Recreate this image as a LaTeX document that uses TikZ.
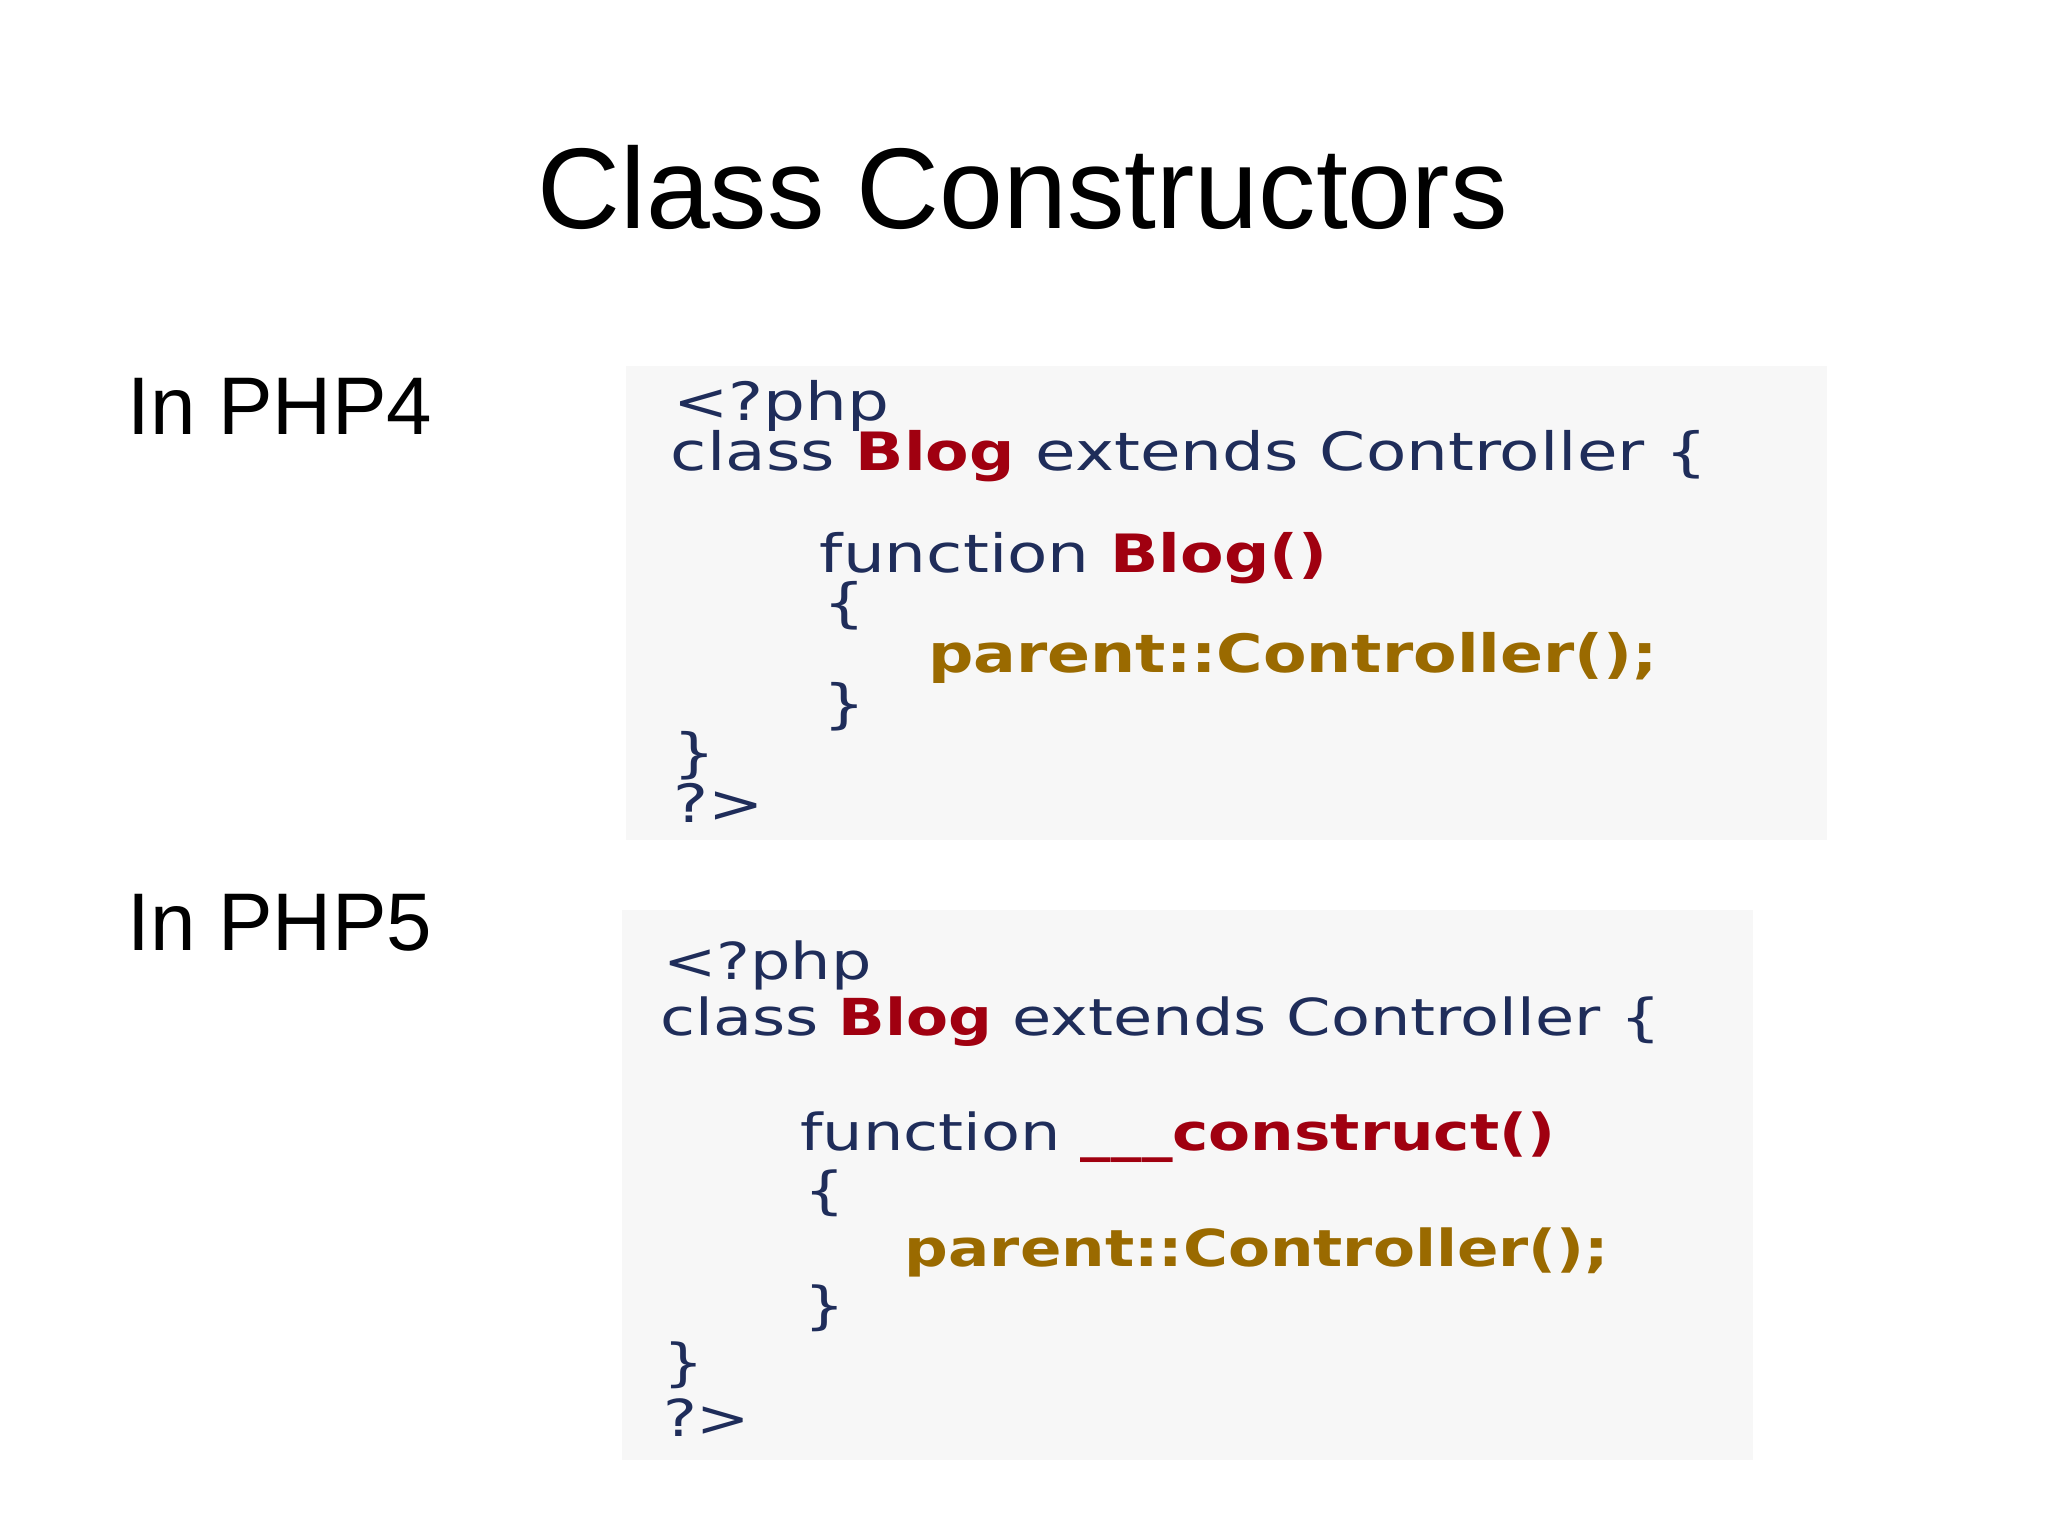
\documentclass[tikz,border=0pt]{standalone}
\usepackage{fontspec}
\setmainfont{Liberation Sans}
\newfontfamily\codefont[FakeStretch=1.25]{DejaVu Sans}
\newfontfamily\codefontb[FakeStretch=1.2]{DejaVu Sans}
\definecolor{cblue}{HTML}{1F2D5A}
\definecolor{cred}{HTML}{A00010}
\definecolor{cgold}{HTML}{9A6A00}
\definecolor{boxbg}{HTML}{F7F7F7}
\tikzset{
 code/.style={anchor=base west,inner sep=0pt,font=\codefont\fontsize{11.5}{14}\selectfont,text=cblue},
 codeB/.style={code,font=\codefont\fontsize{11.1}{14}\selectfont},
 lbl/.style={anchor=base west,inner sep=0pt,font=\fontsize{17.8}{22}\selectfont},
 codebox/.style={fill=boxbg,draw=none}
}
\newcommand{\kred}[1]{\textcolor{cred}{\codefontb\bfseries #1}}
\newcommand{\kgold}[1]{\textcolor{cgold}{\codefontb\bfseries #1}}
\begin{document}
\begin{tikzpicture}[x=0.01cm,y=-0.01cm]
\useasboundingbox (0,0) rectangle (1568,1175);
\node[anchor=base,inner sep=0pt,font=\fontsize{25}{30}\selectfont] (title) at (783,175) {Class Constructors};
\node[lbl] (l4) at (97,333) {In PHP4};
\node[lbl] (l5) at (97,728) {In PHP5};
\fill[codebox] (479,280) rectangle (1399,643);
\node[code] (a1) at (515,322) {<?php};
\node[code] (a2) at (513,360) {class \kred{Blog} extends Controller \{};
\node[code] (a3) at (627,438) {function \kred{Blog()}};
\node[code] (a4) at (630,476) {\{};
\node[code] (a5) at (710,515) {\kgold{parent::Controller();}};
\node[code] (a6) at (630,553) {\}};
\node[code] (a7) at (515,591) {\}};
\node[code] (a8) at (515,630) {?>};
\fill[codebox] (476,697) rectangle (1342,1118);
\node[codeB] (b1) at (507,750) {<?php};
\node[codeB] (b2) at (505,793) {class \kred{Blog} extends Controller \{};
\node[codeB] (b3) at (612,881) {function \kred{\_\_\_construct()}};
\node[codeB] (b4) at (615,925) {\{};
\node[codeB] (b5) at (692,970) {\kgold{parent::Controller();}};
\node[codeB] (b6) at (615,1013) {\}};
\node[codeB] (b7) at (507,1057) {\}};
\node[codeB] (b8) at (507,1100) {?>};
\end{tikzpicture}
\end{document}
